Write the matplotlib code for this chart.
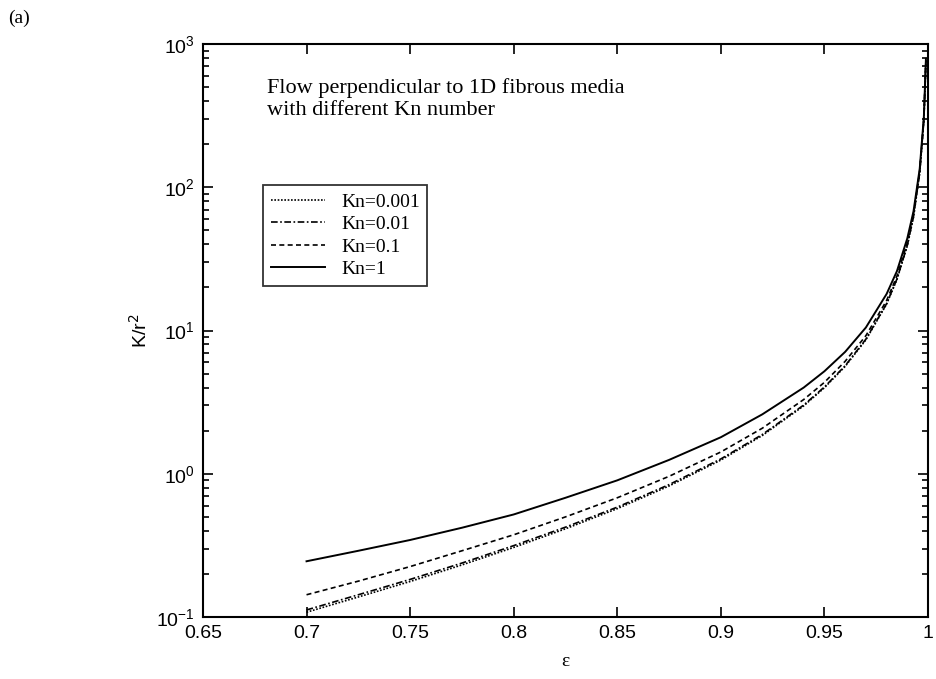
import matplotlib.pyplot as plt
from matplotlib.ticker import LogLocator, NullFormatter

plt.rcParams['axes.unicode_minus'] = False

# porosity values
eps = [0.7, 0.725, 0.75, 0.775, 0.8, 0.825, 0.85, 0.875, 0.9, 0.92, 0.94,
       0.95, 0.96, 0.97, 0.98, 0.985, 0.99, 0.993, 0.996, 0.998, 0.999]

# K/r^2 for each Kn
k_0001 = [0.108, 0.138, 0.177, 0.231, 0.306, 0.413, 0.571, 0.822, 1.247, 1.85, 2.98,
          3.99, 5.62, 8.61, 15.3, 22.7, 39.0, 62.0, 126.0, 295.0, 760.0]
k_001 = [0.112, 0.143, 0.183, 0.238, 0.315, 0.424, 0.585, 0.84, 1.27, 1.88, 3.02,
         4.04, 5.68, 8.7, 15.4, 22.9, 39.3, 62.5, 127.0, 296.0, 765.0]
k_01 = [0.143, 0.178, 0.225, 0.29, 0.375, 0.5, 0.68, 0.96, 1.42, 2.08, 3.3,
        4.35, 6.1, 9.2, 16.2, 24.0, 41.0, 65.0, 130.0, 300.0, 775.0]
k_1 = [0.245, 0.29, 0.345, 0.42, 0.52, 0.68, 0.9, 1.25, 1.8, 2.6, 4.0,
       5.2, 7.1, 10.5, 18.0, 26.0, 44.0, 68.0, 135.0, 310.0, 790.0]

xticks = [0.65, 0.7, 0.75, 0.8, 0.85, 0.9, 0.95, 1.0]
xticklabels = ['0.65', '0.7', '0.75', '0.8', '0.85', '0.9', '0.95', '1']

fig = plt.figure(figsize=(9.37, 6.79), dpi=100)
ax = fig.add_axes([0.2166, 0.0913, 0.7738, 0.8437])

ax.plot(eps, k_0001, color='black', linestyle=(0, (1, 1)), lw=1.2, label='Kn=0.001')
ax.plot(eps, k_001, color='black', linestyle=(0, (4, 1.5, 1, 1.5)), lw=1.2, label='Kn=0.01')
ax.plot(eps, k_01, color='black', linestyle=(0, (3, 2)), lw=1.2, label='Kn=0.1')
ax.plot(eps, k_1, color='black', linestyle='-', lw=1.4, label='Kn=1')

ax.set_yscale('log')
ax.set_xlim(0.65, 1.0)
ax.set_ylim(0.1, 1000)
ax.set_xticks(xticks)
ax.set_xticklabels(xticklabels)
ax.yaxis.set_major_locator(LogLocator(base=10, numticks=10))
ax.yaxis.set_minor_locator(LogLocator(base=10, subs=range(2, 10), numticks=10))
ax.yaxis.set_minor_formatter(NullFormatter())

for lab in ax.get_xticklabels() + ax.get_yticklabels():
    lab.set_family('Liberation Sans')
    lab.set_fontsize(14)
ax.tick_params(which='both', direction='in', top=True, right=True, width=1.2)
ax.tick_params(which='major', length=7, pad=6)
ax.tick_params(which='minor', length=4)
for s in ax.spines.values():
    s.set_linewidth(1.5)

ax.set_xlabel('ε', family='Liberation Serif', fontsize=14, labelpad=8)
ax.set_ylabel('K/r$^2$', family='Liberation Sans', fontsize=14, labelpad=4)

ax.text(0.088, 0.94, 'Flow perpendicular to 1D fibrous media\nwith different Kn number',
        transform=ax.transAxes, va='top', ha='left', family='Liberation Serif',
        fontsize=16, linespacing=1.2)

leg = ax.legend(loc='lower left', bbox_to_anchor=(0.083, 0.578), frameon=True,
                fancybox=False, prop={'family': 'Liberation Serif', 'size': 14},
                handlelength=2.8, borderaxespad=0, labelspacing=0.25)
leg.get_frame().set_edgecolor('black')
leg.get_frame().set_linewidth(1.3)

fig.text(0.009, 0.985, '(a)', family='Liberation Serif', fontsize=14, va='top', ha='left')

fig.savefig('out.png', dpi=100)
